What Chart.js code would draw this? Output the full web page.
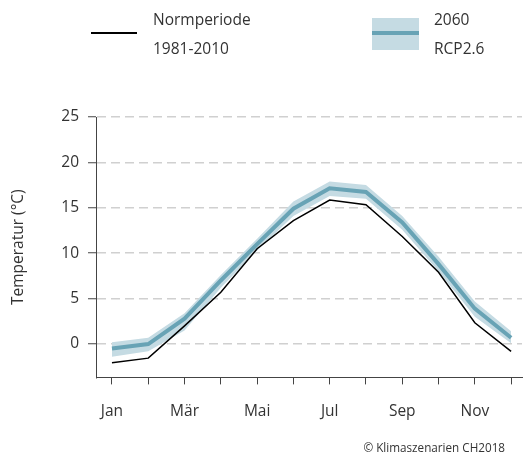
<!DOCTYPE html>
<html>
<head>
<meta charset="utf-8">
<script src="https://cdn.jsdelivr.net/npm/chart.js@4"></script>
<style>
  html, body { margin: 0; padding: 0; background: #fff; }
  #wrap { position: relative; width: 523px; height: 455px; font-family: "Open Sans", "Noto Sans", sans-serif; color: #333; }
  #wrap canvas { position: absolute; left: 0; top: 0; }
  .txt { position: absolute; font-size: 15.5px; line-height: 20px; white-space: nowrap; }
  .blackline { position: absolute; left: 91px; top: 32px; width: 46px; height: 1.5px; background: #000; }
  .bandbox { position: absolute; left: 372px; top: 18px; width: 47px; height: 32px; background: #c5dbe3; }
  .bandline { position: absolute; left: 372px; top: 31px; width: 47px; height: 4px; background: #68a3b5; }
  .copy { position: absolute; right: 18px; top: 439px; font-size: 11.7px; color: #333; }
</style>
</head>
<body>
<div id="wrap">
  <canvas id="klima" width="523" height="455"></canvas>
  <div class="blackline"></div>
  <div class="txt" style="left:153px; top:9px;">Normperiode</div>
  <div class="txt" style="left:153px; top:38px;">1981-2010</div>
  <div class="bandbox"></div>
  <div class="bandline"></div>
  <div class="txt" style="left:434px; top:9px;">2060</div>
  <div class="txt" style="left:434px; top:38px;">RCP2.6</div>
  <div class="copy">© Klimaszenarien CH2018</div>
</div>
<script>
var monate = ['Jan', 'Feb', 'Mär', 'Apr', 'Mai', 'Jun', 'Jul', 'Aug', 'Sep', 'Okt', 'Nov', 'Dez'];
var normperiode = [-2.05, -1.55, 2.0, 5.7, 10.5, 13.6, 15.85, 15.35, 11.85, 7.9, 2.35, -0.8];
var rcp26 = [-0.5, 0.0, 2.8, 7.0, 11.0, 14.9, 17.15, 16.75, 13.4, 8.8, 3.9, 0.7];
var rcp26Oben = [0.2, 0.7, 3.4, 7.6, 11.6, 15.7, 17.9, 17.5, 14.1, 9.6, 4.7, 1.4];
var rcp26Unten = [-1.4, -0.8, 1.5, 6.2, 10.3, 14.1, 16.3, 16.0, 12.6, 8.0, 3.0, 0.1];
var yTicks = [0, 5, 10, 15, 20, 25];

var schrift = { family: '"Open Sans", "Noto Sans", sans-serif', size: 15.5 };

function punkte(werte) {
    return werte.map(function (v, i) { return { x: i, y: v }; });
}

var data = {
    datasets: [{
        label: 'oben',
        data: punkte(rcp26Oben),
        borderWidth: 0,
        backgroundColor: 'rgb(197, 219, 227)',
        fill: '+1',
        pointRadius: 0,
        order: 10,
    }, {
        label: 'unten',
        data: punkte(rcp26Unten),
        borderWidth: 0,
        pointRadius: 0,
        fill: false,
        order: 9,
    }, {
        label: 'Normperiode 1981-2010',
        data: punkte(normperiode),
        borderColor: '#000',
        borderWidth: 1.5,
        pointRadius: 0,
        fill: false,
        order: 2,
    }, {
        label: '2060 RCP2.6',
        data: punkte(rcp26),
        borderColor: 'rgb(104, 163, 181)',
        borderWidth: 4,
        pointRadius: 0,
        fill: false,
        order: 1,
    }]
};

var config = {
    type: 'line',
    data: data,
    options: {
        responsive: false,
        animation: false,
        layout: { padding: { top: 117, bottom: 16, left: 0, right: 1 } },
        plugins: { legend: { display: false }, tooltip: { enabled: false } },
        elements: { line: { tension: 0 } },
        scales: {
            x: {
                type: 'linear',
                min: -0.44,
                max: 11.3,
                afterFit: function (scale) { scale.paddingRight = 0; scale.paddingLeft = 0; },
                border: { color: '#444', width: 1 },
                grid: { drawOnChartArea: false, tickLength: 7, tickColor: '#444' },
                ticks: {
                    stepSize: 1,
                    autoSkip: false,
                    includeBounds: false,
                    maxRotation: 0,
                    padding: 18,
                    color: '#333',
                    font: schrift,
                    callback: function (v) {
                        return (Number.isInteger(v) && v % 2 === 0) ? monate[v] : '';
                    }
                }
            },
            y: {
                min: -3.67,
                max: 25,
                afterFit: function (scale) { scale.width = 96; },
                afterBuildTicks: function (scale) {
                    scale.ticks = yTicks.map(function (v) { return { value: v }; });
                },
                border: { color: '#444', width: 1, dash: [9, 5] },
                grid: {
                    color: '#d0d0d0',
                    lineWidth: 1.5,
                    tickLength: 8,
                    tickColor: '#444',
                    tickWidth: 1,
                    tickBorderDash: [],
                },
                ticks: {
                    padding: 9,
                    color: '#333',
                    font: schrift,
                },
                title: {
                    display: true,
                    text: 'Temperatur (°C)',
                    color: '#333',
                    padding: { top: 9, bottom: 0 },
                    font: schrift,
                }
            }
        }
    }
};

var klimaChart = new Chart(document.getElementById('klima'), config);
</script>
</body>
</html>
